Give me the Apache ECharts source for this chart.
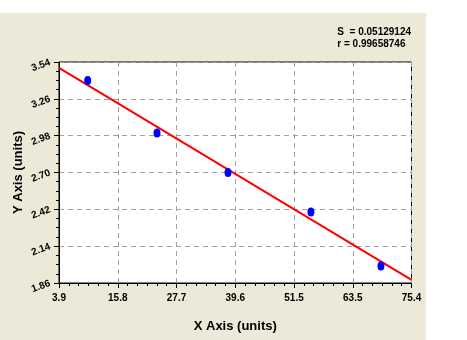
<!DOCTYPE html>
<html>
<head>
<meta charset="utf-8">
<script src="https://cdn.jsdelivr.net/npm/echarts@6/dist/echarts.min.js"></script>
<style>
html,body{margin:0;padding:0;background:#ffffff;}
#chart{width:467px;height:340px;}
</style>
</head>
<body>
<div id="chart"></div>
<script>
// ---- data ----
var pointX = [9.72, 23.78, 38.18, 55.0, 69.2];
var pointY = [3.40, 3.00, 2.70, 2.40, 1.99];
var fitX = [3.9, 75.4];
var fitY = [3.495, 1.883];
var xTickLabels = ['3.9', '15.8', '27.7', '39.6', '51.5', '63.5', '75.4'];
var yTickLabels = ['1.86', '2.14', '2.42', '2.70', '2.98', '3.26', '3.54'];
var statLines = ['S  = 0.05129124', 'r = 0.99658746'];
var xTitle = 'X Axis (units)';
var yTitle = 'Y Axis (units)';

var xMin = 3.9, xMax = 75.4, yMin = 1.86, yMax = 3.54;
var xInterval = (xMax - xMin) / 6;
var yInterval = 0.28;

var FONT = '"Liberation Sans", Arial, sans-serif';

var chart = echarts.init(document.getElementById('chart'), null, {renderer: 'canvas'});

function idx(v, mn, mx, n) { return Math.round((v - mn) / (mx - mn) * n); }

var option = {
  animation: false,
  backgroundColor: 'transparent',
  graphic: [
    {type: 'rect', z: -10, silent: true, shape: {x: 0, y: 13, width: 426, height: 327}, style: {fill: '#ECE9D8'}},
    {type: 'text', z: 10, right: 56, top: 26, style: {text: statLines.join('\n'), font: 'bold 10px ' + FONT, fill: '#000', align: 'right', lineHeight: 12}}
  ],
  grid: {
    left: 59, right: 55.5, top: 62, bottom: 57,
    show: true, backgroundColor: '#ffffff', borderColor: '#000000', borderWidth: 1
  },
  xAxis: {
    type: 'value', min: xMin, max: xMax, interval: xInterval,
    name: xTitle, nameLocation: 'middle', nameGap: 37,
    nameTextStyle: {fontFamily: FONT, fontWeight: 'bold', fontSize: 13, color: '#000'},
    axisLine: {show: true, lineStyle: {color: '#000', width: 1}},
    axisTick: {show: true, inside: false, length: 5, lineStyle: {color: '#000'}},
    minorTick: {show: true, splitNumber: 6, length: 3, lineStyle: {color: '#000'}},
    axisLabel: {
      margin: 10, fontFamily: FONT, fontWeight: 'bold', fontSize: 10, color: '#000',
      formatter: function (v) { return xTickLabels[idx(v, xMin, xMax, 6)]; }
    },
    splitLine: {show: true, lineStyle: {color: '#A0A0A0', type: [5, 4], width: 1}}
  },
  yAxis: {
    type: 'value', min: yMin, max: yMax, interval: yInterval,
    name: yTitle, nameLocation: 'middle', nameGap: 34, nameMoveOverlap: false,
    nameTextStyle: {fontFamily: FONT, fontWeight: 'bold', fontSize: 13, color: '#000'},
    axisLine: {show: true, lineStyle: {color: '#000', width: 1}},
    axisTick: {show: true, inside: false, length: 5, lineStyle: {color: '#000'}},
    minorTick: {show: true, splitNumber: 4, length: 3, lineStyle: {color: '#000'}},
    axisLabel: {
      margin: 9, rotate: 20, fontFamily: FONT, fontWeight: 'bold', fontSize: 10, color: '#000',
      formatter: function (v) { return yTickLabels[idx(v, yMin, yMax, 6)]; }
    },
    splitLine: {show: true, lineStyle: {color: '#A0A0A0', type: [5, 4], width: 1}}
  },
  series: [
    {
      type: 'line', z: 2,
      data: fitX.map(function (x, i) { return [x, fitY[i]]; }),
      showSymbol: false, symbol: 'none',
      lineStyle: {color: '#FF0000', width: 2}
    },
    {
      type: 'scatter', z: 3,
      data: pointX.map(function (x, i) { return [x, pointY[i]]; }),
      symbol: 'circle', symbolSize: [7, 9],
      itemStyle: {color: '#0000FF', opacity: 1}
    }
  ]
};
chart.setOption(option);
</script>
</body>
</html>
